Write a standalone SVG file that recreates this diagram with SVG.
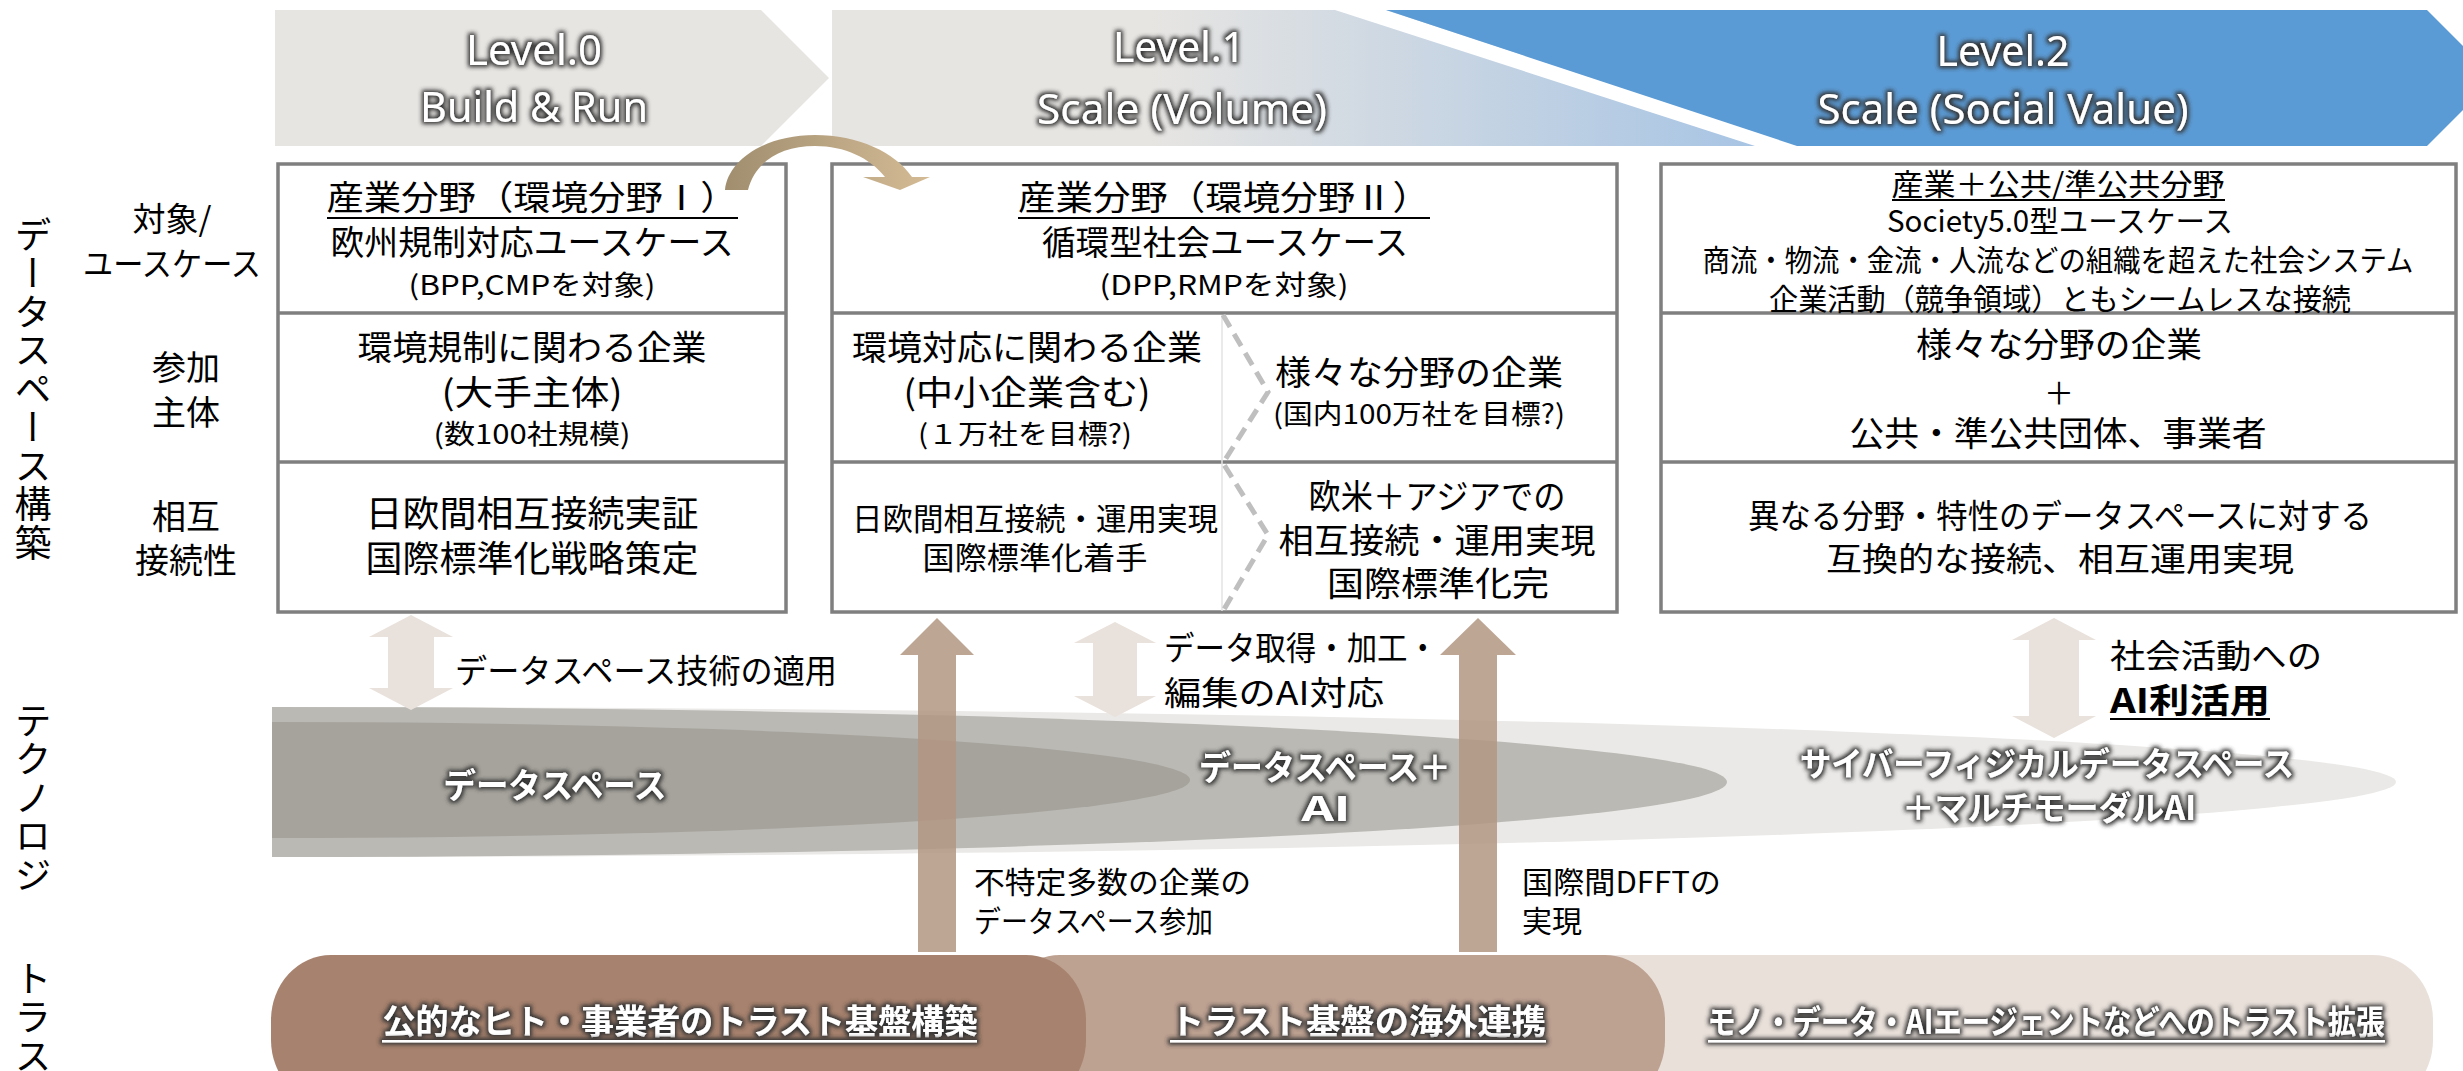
<svg xmlns="http://www.w3.org/2000/svg" width="2463" height="1071" viewBox="0 0 2463 1071">
<defs>
<style>
.jp{font-family:"Noto Sans CJK JP","Noto Sans",sans-serif;fill:#000;}
.c{text-anchor:middle;}
.lv{font-family:"Noto Sans","Noto Sans CJK JP",sans-serif;fill:#fff;font-size:42px;text-anchor:middle;filter:url(#glow);}
.wb{font-family:"Noto Sans CJK JP","Noto Sans",sans-serif;font-weight:bold;fill:#fff;text-anchor:middle;filter:url(#glow);}
.vt{font-family:"Noto Sans CJK JP",sans-serif;font-size:37px;letter-spacing:1.5px;fill:#000;writing-mode:vertical-rl;}
.box{fill:#fff;stroke:#7f7f7f;stroke-width:3.5;}
.div{stroke:#7f7f7f;stroke-width:3.5;}
.ul{stroke:#000;stroke-width:2;}
.ulw{fill:#fff;filter:url(#glow);}
.dbl{fill:#E9E1DB;}
.up{fill:#B39682;opacity:0.85;}
</style>
<filter id="glow" filterUnits="userSpaceOnUse" x="0" y="0" width="2463" height="1071">
<feMorphology in="SourceAlpha" operator="dilate" radius="1.5" result="d"/>
<feGaussianBlur in="d" stdDeviation="2" result="b"/>
<feFlood flood-color="#333333"/>
<feComposite in2="b" operator="in" result="s"/>
<feMerge><feMergeNode in="s"/><feMergeNode in="SourceGraphic"/></feMerge>
</filter>
<linearGradient id="g1" gradientUnits="userSpaceOnUse" x1="1150" y1="0" x2="1800" y2="0">
<stop offset="0" stop-color="#E7E5E2"/>
<stop offset="1" stop-color="#A3C2E4"/>
</linearGradient>
<linearGradient id="gc" gradientUnits="userSpaceOnUse" x1="725" y1="0" x2="930" y2="0">
<stop offset="0" stop-color="#A08E6F"/>
<stop offset="1" stop-color="#D4BB95"/>
</linearGradient>
<clipPath id="bandclip"><rect x="272" y="690" width="2200" height="200"/></clipPath>
</defs>
<rect width="2463" height="1071" fill="#fff"/>

<!-- Level headers -->
<g id="level0">
<polygon points="275,10 761,10 829,78 761,146 275,146" fill="#E7E5E2"/>
<text class="lv" x="534" y="65" textLength="136" lengthAdjust="spacingAndGlyphs">Level.0</text>
<text class="lv" x="534" y="122" textLength="228" lengthAdjust="spacingAndGlyphs">Build &amp; Run</text>
</g>
<g id="level1">
<rect x="832" y="10" width="968" height="136" fill="url(#g1)"/>
<polygon points="1335,10 1386,10 1800,146 1755,146" fill="#fff"/>
<text class="lv" x="1179" y="62" textLength="132" lengthAdjust="spacingAndGlyphs">Level.1</text>
<text class="lv" x="1182" y="124" textLength="290" lengthAdjust="spacingAndGlyphs">Scale (Volume)</text>
</g>
<g id="level2">
<polygon points="1386,10 2427,10 2495,78 2427,146 1797,146" fill="#5B9BD5"/>
<text class="lv" x="2003" y="66" textLength="133" lengthAdjust="spacingAndGlyphs">Level.2</text>
<text class="lv" x="2003" y="124" textLength="371" lengthAdjust="spacingAndGlyphs">Scale (Social Value)</text>
</g>

<!-- Side labels -->
<g id="side-labels">
<text class="vt" x="33" y="216">データスペース構築</text>
<text class="vt" x="33" y="702">テクノロジ</text>
<text class="vt" x="33" y="960">トラス</text>
<text class="jp c" x="172" y="231" font-size="33">対象/</text>
<text class="jp c" x="172" y="276" font-size="33" textLength="178" lengthAdjust="spacingAndGlyphs">ユースケース</text>
<text class="jp c" x="186" y="380" font-size="34">参加</text>
<text class="jp c" x="186" y="425" font-size="34">主体</text>
<text class="jp c" x="186" y="529" font-size="34">相互</text>
<text class="jp c" x="186" y="573" font-size="34">接続性</text>
</g>

<!-- Column 1 -->
<g id="col1">
<rect class="box" x="278" y="164" width="508" height="448"/>
<line class="div" x1="278" y1="313" x2="786" y2="313"/>
<line class="div" x1="278" y1="462" x2="786" y2="462"/>
<text class="jp c" x="532" y="210" font-size="34" textLength="411" lengthAdjust="spacingAndGlyphs">産業分野（環境分野Ⅰ）</text>
<line class="ul" x1="327" y1="218" x2="738" y2="218"/>
<text class="jp c" x="532" y="255" font-size="34" textLength="403" lengthAdjust="spacingAndGlyphs">欧州規制対応ユースケース</text>
<text class="jp c" x="532" y="295" font-size="27" textLength="247" lengthAdjust="spacingAndGlyphs">(BPP,CMPを対象)</text>
<text class="jp c" x="532" y="360" font-size="34" textLength="349" lengthAdjust="spacingAndGlyphs">環境規制に関わる企業</text>
<text class="jp c" x="532" y="405" font-size="34" textLength="181" lengthAdjust="spacingAndGlyphs">(大手主体)</text>
<text class="jp c" x="532" y="444" font-size="27" textLength="197" lengthAdjust="spacingAndGlyphs">(数100社規模)</text>
<text class="jp c" x="532" y="527" font-size="36" textLength="333" lengthAdjust="spacingAndGlyphs">日欧間相互接続実証</text>
<text class="jp c" x="532" y="572" font-size="36" textLength="333" lengthAdjust="spacingAndGlyphs">国際標準化戦略策定</text>
</g>

<!-- Column 2 -->
<g id="col2">
<rect class="box" x="832" y="164" width="785" height="448"/>
<line class="div" x1="832" y1="313" x2="1617" y2="313"/>
<line class="div" x1="832" y1="462" x2="1617" y2="462"/>
<line x1="1222" y1="315" x2="1222" y2="611" stroke="#E3E3E3" stroke-width="1.5"/>
<path d="M1223,315 L1268,392 L1223,463 L1268,535 L1223,611" fill="none" stroke="#BFBFBF" stroke-width="5" stroke-dasharray="14 8"/>
<text class="jp c" x="1224" y="210" font-size="34" textLength="412" lengthAdjust="spacingAndGlyphs">産業分野（環境分野Ⅱ）</text>
<line class="ul" x1="1018" y1="218" x2="1430" y2="218"/>
<text class="jp c" x="1225" y="255" font-size="34" textLength="366" lengthAdjust="spacingAndGlyphs">循環型社会ユースケース</text>
<text class="jp c" x="1224" y="295" font-size="27" textLength="249" lengthAdjust="spacingAndGlyphs">(DPP,RMPを対象)</text>
<text class="jp c" x="1027" y="360" font-size="34" textLength="350" lengthAdjust="spacingAndGlyphs">環境対応に関わる企業</text>
<text class="jp c" x="1027" y="405" font-size="34" textLength="247" lengthAdjust="spacingAndGlyphs">(中小企業含む)</text>
<text class="jp c" x="1025" y="444" font-size="27" textLength="214" lengthAdjust="spacingAndGlyphs">(１万社を目標?)</text>
<text class="jp c" x="1419" y="385" font-size="34" textLength="288" lengthAdjust="spacingAndGlyphs">様々な分野の企業</text>
<text class="jp c" x="1419" y="424" font-size="27" textLength="292" lengthAdjust="spacingAndGlyphs">(国内100万社を目標?)</text>
<text class="jp c" x="1035" y="530" font-size="31" textLength="366" lengthAdjust="spacingAndGlyphs">日欧間相互接続・運用実現</text>
<text class="jp c" x="1035" y="569" font-size="31" textLength="225" lengthAdjust="spacingAndGlyphs">国際標準化着手</text>
<text class="jp c" x="1437" y="509" font-size="34" textLength="257" lengthAdjust="spacingAndGlyphs">欧米＋アジアでの</text>
<text class="jp c" x="1437" y="553" font-size="34" textLength="317" lengthAdjust="spacingAndGlyphs">相互接続・運用実現</text>
<text class="jp c" x="1438" y="596" font-size="34" textLength="222" lengthAdjust="spacingAndGlyphs">国際標準化完</text>
</g>

<!-- Column 3 -->
<g id="col3">
<rect class="box" x="1661" y="164" width="795" height="448"/>
<line class="div" x1="1661" y1="313" x2="2456" y2="313"/>
<line class="div" x1="1661" y1="462" x2="2456" y2="462"/>
<text class="jp c" x="2058" y="195" font-size="30" textLength="333" lengthAdjust="spacingAndGlyphs">産業＋公共/準公共分野</text>
<line class="ul" x1="1892" y1="200" x2="2225" y2="200"/>
<text class="jp c" x="2060" y="232" font-size="30" textLength="346" lengthAdjust="spacingAndGlyphs">Society5.0型ユースケース</text>
<text class="jp c" x="2058" y="271" font-size="30" textLength="711" lengthAdjust="spacingAndGlyphs">商流・物流・金流・人流などの組織を超えた社会システム</text>
<text class="jp c" x="2060" y="310" font-size="30" textLength="582" lengthAdjust="spacingAndGlyphs">企業活動（競争領域）ともシームレスな接続</text>
<text class="jp c" x="2059" y="357" font-size="34" textLength="286" lengthAdjust="spacingAndGlyphs">様々な分野の企業</text>
<text class="jp c" x="2059" y="404" font-size="30">＋</text>
<text class="jp c" x="2058" y="446" font-size="34" textLength="417" lengthAdjust="spacingAndGlyphs">公共・準公共団体、事業者</text>
<text class="jp c" x="2060" y="528" font-size="33" textLength="624" lengthAdjust="spacingAndGlyphs">異なる分野・特性のデータスペースに対する</text>
<text class="jp c" x="2060" y="571" font-size="33" textLength="468" lengthAdjust="spacingAndGlyphs">互換的な接続、相互運用実現</text>
</g>

<!-- Technology band -->
<g id="tech-band">
<g clip-path="url(#bandclip)">
<ellipse cx="272" cy="782" rx="2124" ry="75" fill="#EAE9E7"/>
<ellipse cx="272" cy="782" rx="1455" ry="75" fill="#BAB9B4"/>
<ellipse cx="272" cy="780" rx="918" ry="58" fill="#A6A39C"/>
</g>
<text class="wb" x="555" y="798" font-size="34" textLength="223" lengthAdjust="spacingAndGlyphs">データスペース</text>
<text class="wb" x="1325" y="780" font-size="34" textLength="252" lengthAdjust="spacingAndGlyphs">データスペース＋</text>
<text class="wb" x="1326" y="821" font-size="34" textLength="49" lengthAdjust="spacingAndGlyphs">AI</text>
<text class="wb" x="2047" y="776" font-size="33" textLength="494" lengthAdjust="spacingAndGlyphs">サイバーフィジカルデータスペース</text>
<text class="wb" x="2049" y="820" font-size="33" textLength="294" lengthAdjust="spacingAndGlyphs">＋マルチモーダルAI</text>
</g>

<!-- Trust bars -->
<g id="trust3">
<rect x="1560" y="955" width="873" height="150" rx="60" ry="65" fill="#E9E0DA"/>
<text class="wb" x="2046" y="1034" font-size="33" textLength="677" lengthAdjust="spacingAndGlyphs">モノ・データ・AIエージェントなどへのトラスト拡張</text>
<rect class="ulw" x="1708" y="1040" width="677" height="2.5"/>
</g>
<g id="trust2">
<rect x="1000" y="955" width="665" height="150" rx="60" ry="65" fill="#BDA191"/>
<text class="wb" x="1358" y="1034" font-size="34" textLength="376" lengthAdjust="spacingAndGlyphs">トラスト基盤の海外連携</text>
<rect class="ulw" x="1170" y="1040" width="376" height="2.5"/>
</g>
<g id="trust1">
<rect x="271" y="955" width="815" height="150" rx="60" ry="65" fill="#A7826E"/>
<text class="wb" x="680" y="1034" font-size="34" textLength="595" lengthAdjust="spacingAndGlyphs">公的なヒト・事業者のトラスト基盤構築</text>
<rect class="ulw" x="382" y="1040" width="595" height="2.5"/>
</g>

<!-- Connectors -->
<g id="connectors">
<path d="M725,190 C728,160 765,135 815,135 C858,135 895,152 912,177 L930,177 L900,190 L863,177 L885,177 C870,158 845,146 815,146 C780,146 755,162 748,190 Z" fill="url(#gc)"/>
<path class="dbl" d="M411,615 L453,637 L434,637 L434,688 L453,688 L411,710 L369,688 L388,688 L388,637 L369,637 Z"/>
<path class="dbl" d="M1115,622 L1156,643 L1137,643 L1137,696 L1156,696 L1115,717 L1074,696 L1093,696 L1093,643 L1074,643 Z"/>
<path class="dbl" d="M2054,618 L2096,640 L2079,640 L2079,716 L2096,716 L2054,738 L2012,716 L2029,716 L2029,640 L2012,640 Z"/>
<path class="up" d="M937,618 L974,655 L956,655 L956,952 L918,952 L918,655 L900,655 Z"/>
<path class="up" d="M1478,618 L1516,655 L1497,655 L1497,952 L1459,952 L1459,655 L1440,655 Z"/>
</g>

<!-- Connector labels -->
<g id="connector-labels">
<text class="jp" x="455" y="683" font-size="33" textLength="382" lengthAdjust="spacingAndGlyphs">データスペース技術の適用</text>
<text class="jp" x="1164" y="660" font-size="33" textLength="274" lengthAdjust="spacingAndGlyphs">データ取得・加工・</text>
<text class="jp" x="1164" y="705" font-size="33" textLength="220" lengthAdjust="spacingAndGlyphs">編集のAI対応</text>
<text class="jp" x="2110" y="668" font-size="33" textLength="212" lengthAdjust="spacingAndGlyphs">社会活動への</text>
<text class="jp" x="2110" y="713" font-size="34" font-weight="bold" textLength="160" lengthAdjust="spacingAndGlyphs">AI利活用</text>
<line class="ul" x1="2110" y1="719" x2="2270" y2="719"/>
<text class="jp" x="974" y="893" font-size="30" textLength="277" lengthAdjust="spacingAndGlyphs">不特定多数の企業の</text>
<text class="jp" x="974" y="932" font-size="30" textLength="239" lengthAdjust="spacingAndGlyphs">データスペース参加</text>
<text class="jp" x="1522" y="893" font-size="30" textLength="199" lengthAdjust="spacingAndGlyphs">国際間DFFTの</text>
<text class="jp" x="1522" y="932" font-size="30">実現</text>
</g>
</svg>
